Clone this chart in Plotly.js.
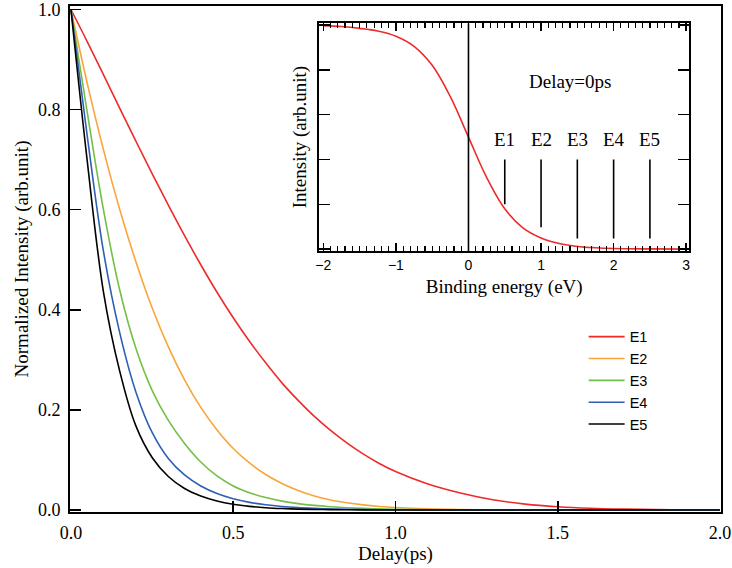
<!DOCTYPE html>
<html>
<head>
<meta charset="utf-8">
<script src="https://cdn.plot.ly/plotly-3.0.1.min.js"></script>
<style>html,body{margin:0;padding:0;background:#fff;}#chart{width:732px;height:568px;}</style>
</head>
<body>
<div id="chart"></div>
<script>
// Main chart data: normalized intensity vs delay (ps)
const delay = [0, 0.05, 0.1, 0.15, 0.2, 0.25, 0.3, 0.35, 0.4, 0.45, 0.5, 0.55, 0.6, 0.65, 0.7, 0.75, 0.8, 0.85, 0.9, 0.95, 1.0, 1.1, 1.2, 1.3, 1.4, 1.5, 1.6, 1.7, 1.8, 1.9, 2.0];
const E1 = [1, 0.936, 0.870, 0.803, 0.737, 0.672, 0.609, 0.548, 0.490, 0.435, 0.384, 0.337, 0.294, 0.254, 0.219, 0.187, 0.159, 0.134, 0.112, 0.093, 0.077, 0.052, 0.034, 0.0205, 0.0118, 0.0066, 0.0035, 0.0018, 0.0009, 0.0004, 0.0002];
const E2 = [1, 0.853, 0.720, 0.601, 0.496, 0.404, 0.326, 0.260, 0.205, 0.160, 0.123, 0.094, 0.071, 0.053, 0.039, 0.028, 0.020, 0.0144, 0.0102, 0.0071, 0.0049, 0.0022, 0.001, 0.0004, 0.00015, 0, 0, 0, 0, 0, 0];
const E3 = [1, 0.795, 0.600, 0.440, 0.323, 0.239, 0.179, 0.133, 0.096, 0.068, 0.048, 0.0345, 0.0248, 0.0178, 0.0128, 0.0092, 0.0066, 0.0046, 0.0032, 0.0022, 0.0015, 0.0006, 0.0003, 0.0001, 0, 0, 0, 0, 0, 0, 0];
const E4 = [1, 0.748, 0.517, 0.355, 0.236, 0.155, 0.103, 0.070, 0.048, 0.033, 0.0225, 0.0153, 0.0104, 0.007, 0.0047, 0.0032, 0.0021, 0.0014, 0.0009, 0.0006, 0.0004, 0.0001, 0, 0, 0, 0, 0, 0, 0, 0, 0];
const E5 = [1, 0.698, 0.436, 0.278, 0.168, 0.105, 0.067, 0.043, 0.028, 0.018, 0.0115, 0.0073, 0.0046, 0.0029, 0.0018, 0.0011, 0.0007, 0.0004, 0.0002, 0.0001, 0.0001, 0, 0, 0, 0, 0, 0, 0, 0, 0, 0];
const seriesNames = ['E1', 'E2', 'E3', 'E4', 'E5'];
const seriesColors = ['#ee2b2b', '#fba43a', '#74bf45', '#2f5fb3', '#000000'];
const delayTicks = [0, 0.5, 1, 1.5, 2];
const delayTickText = ['0.0', '0.5', '1.0', '1.5', '2.0'];
const intensityTicks = [0, 0.2, 0.4, 0.6, 0.8, 1.0];
const intensityTickText = ['0.0', '0.2', '0.4', '0.6', '0.8', '1.0'];

// Inset data: edge spectrum at delay 0
const energy = [-2, -1.75, -1.5, -1.25, -1, -0.75, -0.5, -0.25, 0, 0.25, 0.5, 0.75, 1, 1.25, 1.5, 1.75, 2, 2.5, 3];
const insetIntensity = [0.997, 0.993, 0.985, 0.973, 0.95, 0.905, 0.82, 0.68, 0.50, 0.32, 0.18, 0.095, 0.05, 0.025, 0.012, 0.006, 0.003, 0.001, 0.0];
const markerEnergy = [0.5, 1.0, 1.5, 2.0, 2.5];
const markerTop = [0.40, 0.40, 0.40, 0.40, 0.40];
const markerBottom = [0.20, 0.097, 0.047, 0.047, 0.047];
const markerLabelY = 0.49;
const insetNote = 'Delay=0ps';
const insetNoteX = 1.40, insetNoteY = 0.75;

const serif = 'Liberation Serif, Times New Roman, serif';
const sans = 'Liberation Sans, Arial, sans-serif';

const ys = [E1, E2, E3, E4, E5];
const traces = ys.map((y, i) => ({
  x: delay, y: y, type: 'scatter', mode: 'lines', name: seriesNames[i],
  line: {color: seriesColors[i], width: 1.6, shape: 'spline', smoothing: 1},
  xaxis: 'x', yaxis: 'y'
}));

traces.push({
  x: energy, y: insetIntensity, type: 'scatter', mode: 'lines', showlegend: false,
  line: {color: '#ee2b2b', width: 1.6, shape: 'spline', smoothing: 1},
  xaxis: 'x2', yaxis: 'y2', hoverinfo: 'skip'
});

const mx = [], my = [];
markerEnergy.forEach((e, i) => { mx.push(e, e, null); my.push(markerBottom[i], markerTop[i], null); });
traces.push({
  x: mx, y: my, type: 'scatter', mode: 'lines', showlegend: false,
  line: {color: '#000', width: 1.6}, xaxis: 'x2', yaxis: 'y2', hoverinfo: 'skip'
});
traces.push({
  x: [0, 0], y: [-0.008, 1.008], type: 'scatter', mode: 'lines', showlegend: false,
  line: {color: '#000', width: 1.6}, xaxis: 'x2', yaxis: 'y2', hoverinfo: 'skip'
});

const annotations = markerEnergy.map((e, i) => ({
  x: e, y: markerLabelY, xref: 'x2', yref: 'y2', text: seriesNames[i], showarrow: false,
  font: {family: serif, size: 19, color: '#000'}
}));
annotations.push({
  x: insetNoteX, y: insetNoteY, xref: 'x2', yref: 'y2', text: insetNote, showarrow: false,
  font: {family: serif, size: 19, color: '#000'}
});

const layout = {
  width: 732, height: 568,
  margin: {l: 70, r: 11, t: 6, b: 56},
  paper_bgcolor: '#fff', plot_bgcolor: '#fff',
  showlegend: true,
  legend: {x: 0.789, y: 0.378, xanchor: 'left', yanchor: 'top', bgcolor: 'rgba(0,0,0,0)',
           font: {family: sans, size: 14.5, color: '#000'}, itemwidth: 36, tracegroupgap: 0},
  xaxis: {
    range: [-0.003, 2.003], tickvals: delayTicks, ticktext: delayTickText,
    ticks: 'inside', ticklen: 11, tickwidth: 1.5, tickcolor: '#000', ticklabelstandoff: 3,
    ticklabeloverflow: 'allow',
    showline: true, linewidth: 2, linecolor: '#000', mirror: true,
    showgrid: false, zeroline: false,
    tickfont: {family: serif, size: 18, color: '#000'},
    title: {text: 'Delay(ps)', font: {family: serif, size: 19, color: '#000'}, standoff: 2}
  },
  yaxis: {
    range: [-0.004, 1.007], tickvals: intensityTicks, ticktext: intensityTickText,
    ticks: 'inside', ticklen: 11, tickwidth: 1.5, tickcolor: '#000', ticklabelstandoff: 4,
    ticklabeloverflow: 'allow',
    showline: true, linewidth: 2, linecolor: '#000', mirror: true,
    showgrid: false, zeroline: false,
    tickfont: {family: serif, size: 18, color: '#000'},
    title: {text: 'Normalized Intensity (arb.unit)', font: {family: serif, size: 19, color: '#000'}, standoff: 4}
  },
  xaxis2: {
    domain: [0.383, 0.951], anchor: 'y2', range: [-2.055, 3.04], tick0: 0, dtick: 1,
    ticks: 'inside', ticklen: 8, tickwidth: 1.5, tickcolor: '#000',
    minor: {dtick: 0.1, tick0: 0, ticks: 'inside', ticklen: 5, tickwidth: 1.2, tickcolor: '#000', showgrid: false},
    showline: true, linewidth: 2, linecolor: '#000', mirror: 'allticks',
    showgrid: false, zeroline: false,
    tickfont: {family: sans, size: 14, color: '#000'},
    title: {text: 'Binding energy (eV)', font: {family: serif, size: 19, color: '#000'}, standoff: 8}
  },
  yaxis2: {
    domain: [0.516, 0.966], anchor: 'x2', range: [-0.008, 1.008], tick0: 0, dtick: 0.2,
    ticks: 'inside', ticklen: 11, tickwidth: 1.5, tickcolor: '#000', showticklabels: false,
    showline: true, linewidth: 2, linecolor: '#000', mirror: 'allticks',
    showgrid: false, zeroline: false,
    title: {text: 'Intensity (arb.unit)', font: {family: serif, size: 19, color: '#000'}, standoff: 6}
  },
  annotations: annotations
};

Plotly.newPlot('chart', traces, layout, {staticPlot: true, displayModeBar: false});
</script>
</body>
</html>
